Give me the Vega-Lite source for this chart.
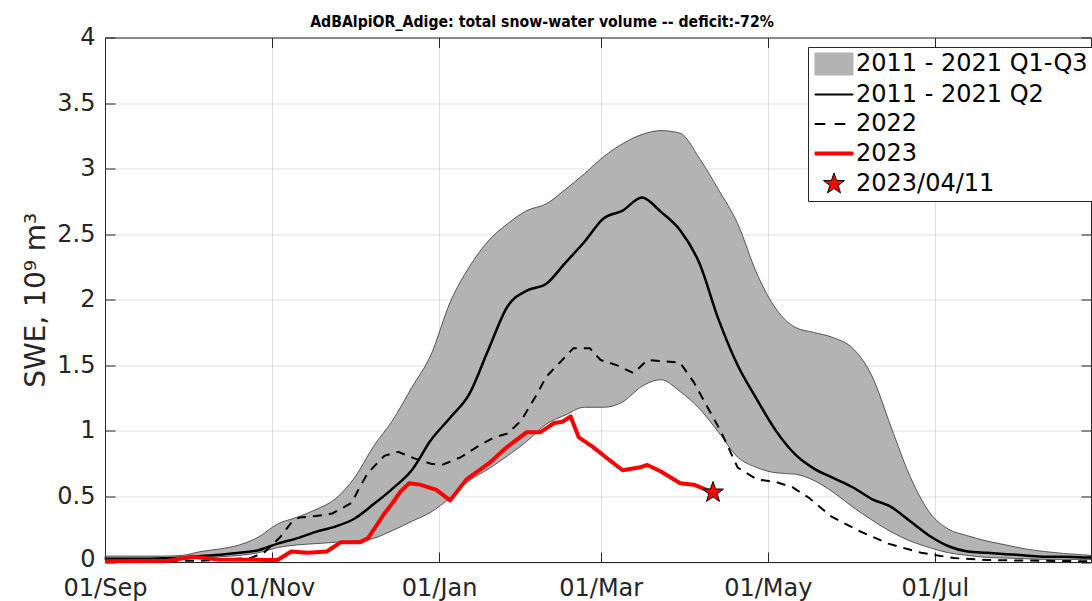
{
  "$schema": "https://vega.github.io/schema/vega-lite/v6.json",
  "width": 986,
  "height": 524.5,
  "autosize": {"type": "none"},
  "padding": {"left": 105, "top": 37.5, "right": 1, "bottom": 39},
  "background": "white",
  "title": {
    "text": "AdBAlpiOR_Adige: total snow-water volume -- deficit:-72%",
    "font": "DejaVu Sans Condensed",
    "fontWeight": "bold",
    "fontSize": 15.7,
    "color": "black",
    "anchor": "middle",
    "dx": -56,
    "offset": -5,
    "frame": "group"
  },
  "config": {
    "view": {"stroke": null},
    "axis": {
      "domainColor": "#262626",
      "tickColor": "#262626",
      "labelColor": "#262626",
      "labelFont": "DejaVu Sans",
      "labelFontSize": 24,
      "tickSize": -10,
      "labelFlush": false,
      "labelOverlap": false,
      "labelBound": false,
      "gridColor": "#262626",
      "gridOpacity": 0.15,
      "zindex": 1,
      "titleFont": "DejaVu Sans",
      "titleFontWeight": "normal",
      "titleColor": "#262626"
    }
  },
  "datasets": {
    "band": [
      {"date": "2022-09-01", "q1": 0.015, "q2": 0.025, "q3": 0.045},
      {"date": "2022-09-08", "q1": 0.015, "q2": 0.025, "q3": 0.045},
      {"date": "2022-09-15", "q1": 0.015, "q2": 0.025, "q3": 0.045},
      {"date": "2022-09-22", "q1": 0.015, "q2": 0.028, "q3": 0.045},
      {"date": "2022-09-29", "q1": 0.02, "q2": 0.032, "q3": 0.05},
      {"date": "2022-10-06", "q1": 0.03, "q2": 0.045, "q3": 0.08},
      {"date": "2022-10-13", "q1": 0.04, "q2": 0.055, "q3": 0.10},
      {"date": "2022-10-20", "q1": 0.05, "q2": 0.07, "q3": 0.13},
      {"date": "2022-10-27", "q1": 0.07, "q2": 0.09, "q3": 0.19},
      {"date": "2022-11-03", "q1": 0.11, "q2": 0.14, "q3": 0.29},
      {"date": "2022-11-10", "q1": 0.13, "q2": 0.18, "q3": 0.34},
      {"date": "2022-11-17", "q1": 0.14, "q2": 0.23, "q3": 0.40},
      {"date": "2022-11-24", "q1": 0.15, "q2": 0.27, "q3": 0.48},
      {"date": "2022-12-01", "q1": 0.16, "q2": 0.33, "q3": 0.64},
      {"date": "2022-12-08", "q1": 0.18, "q2": 0.44, "q3": 0.88},
      {"date": "2022-12-15", "q1": 0.24, "q2": 0.56, "q3": 1.08},
      {"date": "2022-12-22", "q1": 0.31, "q2": 0.70, "q3": 1.33},
      {"date": "2022-12-29", "q1": 0.38, "q2": 0.93, "q3": 1.58},
      {"date": "2023-01-05", "q1": 0.49, "q2": 1.10, "q3": 1.98},
      {"date": "2023-01-12", "q1": 0.62, "q2": 1.28, "q3": 2.25},
      {"date": "2023-01-19", "q1": 0.71, "q2": 1.62, "q3": 2.45},
      {"date": "2023-01-26", "q1": 0.81, "q2": 1.95, "q3": 2.58},
      {"date": "2023-02-02", "q1": 0.92, "q2": 2.07, "q3": 2.68},
      {"date": "2023-02-09", "q1": 1.05, "q2": 2.12, "q3": 2.73},
      {"date": "2023-02-16", "q1": 1.12, "q2": 2.28, "q3": 2.84},
      {"date": "2023-02-23", "q1": 1.18, "q2": 2.44, "q3": 2.96},
      {"date": "2023-03-02", "q1": 1.18, "q2": 2.62, "q3": 3.09},
      {"date": "2023-03-09", "q1": 1.22, "q2": 2.68, "q3": 3.19},
      {"date": "2023-03-16", "q1": 1.34, "q2": 2.78, "q3": 3.26},
      {"date": "2023-03-23", "q1": 1.39, "q2": 2.67, "q3": 3.29},
      {"date": "2023-03-30", "q1": 1.30, "q2": 2.53, "q3": 3.27},
      {"date": "2023-04-06", "q1": 1.17, "q2": 2.28, "q3": 3.08},
      {"date": "2023-04-13", "q1": 0.99, "q2": 1.85, "q3": 2.84},
      {"date": "2023-04-20", "q1": 0.80, "q2": 1.50, "q3": 2.58},
      {"date": "2023-04-27", "q1": 0.72, "q2": 1.24, "q3": 2.20},
      {"date": "2023-05-04", "q1": 0.68, "q2": 1.00, "q3": 1.93},
      {"date": "2023-05-11", "q1": 0.67, "q2": 0.82, "q3": 1.79},
      {"date": "2023-05-18", "q1": 0.62, "q2": 0.71, "q3": 1.75},
      {"date": "2023-05-25", "q1": 0.53, "q2": 0.64, "q3": 1.71},
      {"date": "2023-06-01", "q1": 0.42, "q2": 0.57, "q3": 1.63},
      {"date": "2023-06-08", "q1": 0.32, "q2": 0.48, "q3": 1.42},
      {"date": "2023-06-15", "q1": 0.23, "q2": 0.42, "q3": 1.03},
      {"date": "2023-06-22", "q1": 0.16, "q2": 0.31, "q3": 0.65},
      {"date": "2023-06-29", "q1": 0.11, "q2": 0.20, "q3": 0.38},
      {"date": "2023-07-06", "q1": 0.07, "q2": 0.12, "q3": 0.25},
      {"date": "2023-07-13", "q1": 0.05, "q2": 0.08, "q3": 0.20},
      {"date": "2023-07-20", "q1": 0.035, "q2": 0.07, "q3": 0.16},
      {"date": "2023-07-27", "q1": 0.03, "q2": 0.06, "q3": 0.13},
      {"date": "2023-08-03", "q1": 0.025, "q2": 0.05, "q3": 0.10},
      {"date": "2023-08-10", "q1": 0.02, "q2": 0.04, "q3": 0.08},
      {"date": "2023-08-17", "q1": 0.02, "q2": 0.04, "q3": 0.065},
      {"date": "2023-08-24", "q1": 0.02, "q2": 0.035, "q3": 0.055},
      {"date": "2023-08-27", "q1": 0.02, "q2": 0.035, "q3": 0.05}
    ],
    "y2022": [
      {"date": "2022-09-01", "v": 0.01},
      {"date": "2022-10-06", "v": 0.01},
      {"date": "2022-10-24", "v": 0.03},
      {"date": "2022-10-29", "v": 0.07},
      {"date": "2022-11-04", "v": 0.19},
      {"date": "2022-11-08", "v": 0.30},
      {"date": "2022-11-11", "v": 0.34},
      {"date": "2022-11-17", "v": 0.35},
      {"date": "2022-11-23", "v": 0.37},
      {"date": "2022-11-30", "v": 0.45},
      {"date": "2022-12-03", "v": 0.57},
      {"date": "2022-12-06", "v": 0.68},
      {"date": "2022-12-12", "v": 0.81},
      {"date": "2022-12-17", "v": 0.84},
      {"date": "2022-12-23", "v": 0.79},
      {"date": "2022-12-29", "v": 0.75},
      {"date": "2023-01-02", "v": 0.74},
      {"date": "2023-01-09", "v": 0.80},
      {"date": "2023-01-15", "v": 0.88},
      {"date": "2023-01-21", "v": 0.95},
      {"date": "2023-01-26", "v": 0.98},
      {"date": "2023-01-31", "v": 1.08},
      {"date": "2023-02-06", "v": 1.29},
      {"date": "2023-02-09", "v": 1.41},
      {"date": "2023-02-14", "v": 1.52},
      {"date": "2023-02-19", "v": 1.63},
      {"date": "2023-02-25", "v": 1.63},
      {"date": "2023-03-01", "v": 1.54},
      {"date": "2023-03-07", "v": 1.50},
      {"date": "2023-03-13", "v": 1.44},
      {"date": "2023-03-18", "v": 1.54},
      {"date": "2023-03-24", "v": 1.53},
      {"date": "2023-03-30", "v": 1.52},
      {"date": "2023-04-04", "v": 1.37},
      {"date": "2023-04-09", "v": 1.18},
      {"date": "2023-04-14", "v": 0.99},
      {"date": "2023-04-20", "v": 0.72},
      {"date": "2023-04-27", "v": 0.63},
      {"date": "2023-05-04", "v": 0.61},
      {"date": "2023-05-10", "v": 0.57},
      {"date": "2023-05-16", "v": 0.49},
      {"date": "2023-05-24", "v": 0.35},
      {"date": "2023-06-03", "v": 0.24},
      {"date": "2023-06-14", "v": 0.14},
      {"date": "2023-06-26", "v": 0.07},
      {"date": "2023-07-08", "v": 0.03},
      {"date": "2023-07-20", "v": 0.015},
      {"date": "2023-08-27", "v": 0.005}
    ],
    "y2023": [
      {"date": "2022-09-01", "v": 0.005},
      {"date": "2022-09-24", "v": 0.01},
      {"date": "2022-10-03", "v": 0.04},
      {"date": "2022-10-12", "v": 0.02},
      {"date": "2022-10-31", "v": 0.015},
      {"date": "2022-11-03", "v": 0.015},
      {"date": "2022-11-08", "v": 0.08},
      {"date": "2022-11-14", "v": 0.07},
      {"date": "2022-11-21", "v": 0.08},
      {"date": "2022-11-26", "v": 0.15},
      {"date": "2022-12-03", "v": 0.15},
      {"date": "2022-12-06", "v": 0.18},
      {"date": "2022-12-12", "v": 0.37},
      {"date": "2022-12-15", "v": 0.45},
      {"date": "2022-12-18", "v": 0.54},
      {"date": "2022-12-21", "v": 0.60},
      {"date": "2022-12-25", "v": 0.59},
      {"date": "2022-12-31", "v": 0.55},
      {"date": "2023-01-05", "v": 0.47},
      {"date": "2023-01-11", "v": 0.63},
      {"date": "2023-01-19", "v": 0.75},
      {"date": "2023-01-26", "v": 0.88},
      {"date": "2023-02-02", "v": 0.99},
      {"date": "2023-02-07", "v": 0.99},
      {"date": "2023-02-12", "v": 1.06},
      {"date": "2023-02-15", "v": 1.07},
      {"date": "2023-02-18", "v": 1.11},
      {"date": "2023-02-21", "v": 0.95},
      {"date": "2023-02-26", "v": 0.88},
      {"date": "2023-03-04", "v": 0.78},
      {"date": "2023-03-09", "v": 0.70},
      {"date": "2023-03-15", "v": 0.72},
      {"date": "2023-03-18", "v": 0.74},
      {"date": "2023-03-23", "v": 0.69},
      {"date": "2023-03-30", "v": 0.60},
      {"date": "2023-04-04", "v": 0.59},
      {"date": "2023-04-11", "v": 0.53}
    ],
    "star": [
      {"date": "2023-04-11", "v": 0.53}
    ],
    "legend": [
      {"date": "2022-06-01", "v": 2, "s": "2011 - 2021 Q1-Q3"}
    ]
  },
  "layer": [
    {
      "data": {"name": "band"},
      "mark": {"type": "area", "fill": "#b3b3b3", "stroke": "#333333", "strokeWidth": 0.8, "interpolate": "monotone"},
      "encoding": {
        "x": {
          "field": "date", "type": "temporal",
          "scale": {"type": "utc", "domain": [{"year": 2022, "month": 9, "date": 1, "utc": true}, {"year": 2023, "month": 8, "date": 27, "utc": true}]},
          "axis": {
            "orient": "bottom", "title": null, "grid": true, "format": "%d/%b", "labelPadding": 24,
            "values": [
              {"year": 2022, "month": 9, "date": 1, "utc": true},
              {"year": 2022, "month": 11, "date": 1, "utc": true},
              {"year": 2023, "month": 1, "date": 1, "utc": true},
              {"year": 2023, "month": 3, "date": 1, "utc": true},
              {"year": 2023, "month": 5, "date": 1, "utc": true},
              {"year": 2023, "month": 7, "date": 1, "utc": true}
            ]
          }
        },
        "y": {
          "field": "q1", "type": "quantitative",
          "scale": {"domain": [0, 4], "nice": false, "zero": false},
          "axis": {
            "orient": "left", "title": "SWE, 10⁹ m³", "titleFontSize": 28, "titlePadding": 6,
            "grid": true, "format": "~g", "labelPadding": 20,
            "labelOffset": {"condition": {"test": "datum.value == 0", "value": -3}, "value": 0},
            "values": [0, 0.5, 1, 1.5, 2, 2.5, 3, 3.5, 4]
          }
        },
        "y2": {"field": "q3"}
      }
    },
    {
      "data": {"name": "band"},
      "mark": {"type": "line", "color": "black", "strokeWidth": 2.5, "interpolate": "monotone"},
      "encoding": {
        "x": {
          "field": "date", "type": "temporal",
          "scale": {"type": "utc", "domain": [{"year": 2022, "month": 9, "date": 1, "utc": true}, {"year": 2023, "month": 8, "date": 27, "utc": true}]},
          "axis": {
            "orient": "top", "title": null, "grid": false, "labels": false,
            "values": [
              {"year": 2022, "month": 9, "date": 1, "utc": true},
              {"year": 2022, "month": 11, "date": 1, "utc": true},
              {"year": 2023, "month": 1, "date": 1, "utc": true},
              {"year": 2023, "month": 3, "date": 1, "utc": true},
              {"year": 2023, "month": 5, "date": 1, "utc": true},
              {"year": 2023, "month": 7, "date": 1, "utc": true}
            ]
          }
        },
        "y": {
          "field": "q2", "type": "quantitative",
          "scale": {"domain": [0, 4], "nice": false, "zero": false},
          "axis": {
            "orient": "right", "title": null, "grid": false, "labels": false,
            "values": [0, 0.5, 1, 1.5, 2, 2.5, 3, 3.5, 4]
          }
        }
      }
    },
    {
      "data": {"name": "y2022"},
      "mark": {"type": "line", "color": "black", "strokeWidth": 2, "strokeDash": [9, 7]},
      "encoding": {
        "x": {"field": "date", "type": "temporal", "axis": null,
          "scale": {"type": "utc", "domain": [{"year": 2022, "month": 9, "date": 1, "utc": true}, {"year": 2023, "month": 8, "date": 27, "utc": true}]}},
        "y": {"field": "v", "type": "quantitative", "axis": null, "scale": {"domain": [0, 4], "nice": false, "zero": false}}
      }
    },
    {
      "data": {"name": "y2023"},
      "mark": {"type": "line", "color": "#ff0000", "strokeWidth": 4, "strokeJoin": "round"},
      "encoding": {
        "x": {"field": "date", "type": "temporal", "axis": null,
          "scale": {"type": "utc", "domain": [{"year": 2022, "month": 9, "date": 1, "utc": true}, {"year": 2023, "month": 8, "date": 27, "utc": true}]}},
        "y": {"field": "v", "type": "quantitative", "axis": null, "scale": {"domain": [0, 4], "nice": false, "zero": false}}
      }
    },
    {
      "data": {"name": "star"},
      "mark": {
        "type": "point", "filled": true, "opacity": 1, "size": 400,
        "shape": "M0,-1.1L0.259,-0.356L1.046,-0.34L0.418,0.136L0.647,0.89L0,0.44L-0.647,0.89L-0.418,0.136L-1.046,-0.34L-0.259,-0.356Z",
        "fill": "#ff0000", "stroke": "black", "strokeWidth": 1
      },
      "encoding": {
        "x": {"field": "date", "type": "temporal", "axis": null,
          "scale": {"type": "utc", "domain": [{"year": 2022, "month": 9, "date": 1, "utc": true}, {"year": 2023, "month": 8, "date": 27, "utc": true}]}},
        "y": {"field": "v", "type": "quantitative", "axis": null, "scale": {"domain": [0, 4], "nice": false, "zero": false}}
      }
    },
    {
      "data": {"name": "legend"},
      "mark": {"type": "point", "filled": true, "opacity": 1, "size": 400, "clip": true, "strokeWidth": 1},
      "encoding": {
        "x": {"field": "date", "type": "temporal", "axis": null,
          "scale": {"type": "utc", "domain": [{"year": 2022, "month": 9, "date": 1, "utc": true}, {"year": 2023, "month": 8, "date": 27, "utc": true}]}},
        "y": {"field": "v", "type": "quantitative", "axis": null, "scale": {"domain": [0, 4], "nice": false, "zero": false}},
        "shape": {
          "field": "s", "type": "nominal",
          "scale": {
            "domain": ["2011 - 2021 Q1-Q3", "2011 - 2021 Q2", "2022", "2023", "2023/04/11"],
            "range": [
              "M-1,-1.1H2.8V1.1H-1Z",
              "M-1,-0.05H2.8V0.05H-1Z",
              "M-1,-0.05H0V0.05H-1ZM1,-0.05H2V0.05H1Z",
              "M-1,-0.15H2.8V0.15H-1Z",
              "M0.9,-1.1L1.159,-0.356L1.946,-0.34L1.318,0.136L1.547,0.89L0.9,0.44L0.253,0.89L0.482,0.136L-0.146,-0.34L0.641,-0.356Z"
            ]
          },
          "legend": {"orient": "none", "legendX": 703, "legendY": 9.5, "title": null, "strokeColor": "#262626", "fillColor": "white", "padding": 5, "labelFontSize": 24, "labelFont": "DejaVu Sans", "labelColor": "black", "labelOffset": 19, "rowPadding": 5.5, "symbolSize": 400, "labelLimit": 500, "cornerRadius": 0, "symbolStrokeWidth": 1}
        },
        "fill": {
          "field": "s", "type": "nominal",
          "scale": {"domain": ["2011 - 2021 Q1-Q3", "2011 - 2021 Q2", "2022", "2023", "2023/04/11"], "range": ["#b3b3b3", "black", "black", "#ff0000", "#ff0000"]},
          "legend": {"orient": "none", "legendX": 703, "legendY": 9.5, "title": null, "strokeColor": "#262626", "fillColor": "white", "padding": 5, "labelFontSize": 24, "labelFont": "DejaVu Sans", "labelColor": "black", "labelOffset": 19, "rowPadding": 5.5, "symbolSize": 400, "labelLimit": 500, "cornerRadius": 0, "symbolStrokeWidth": 1}
        },
        "stroke": {
          "field": "s", "type": "nominal",
          "scale": {"domain": ["2011 - 2021 Q1-Q3", "2011 - 2021 Q2", "2022", "2023", "2023/04/11"], "range": ["#b3b3b3", "black", "black", "#ff0000", "black"]},
          "legend": {"orient": "none", "legendX": 703, "legendY": 9.5, "title": null, "strokeColor": "#262626", "fillColor": "white", "padding": 5, "labelFontSize": 24, "labelFont": "DejaVu Sans", "labelColor": "black", "labelOffset": 19, "rowPadding": 5.5, "symbolSize": 400, "labelLimit": 500, "cornerRadius": 0, "symbolStrokeWidth": 1}
        }
      }
    }
  ],
  "resolve": {"axis": {"x": "independent", "y": "independent"}}
}
